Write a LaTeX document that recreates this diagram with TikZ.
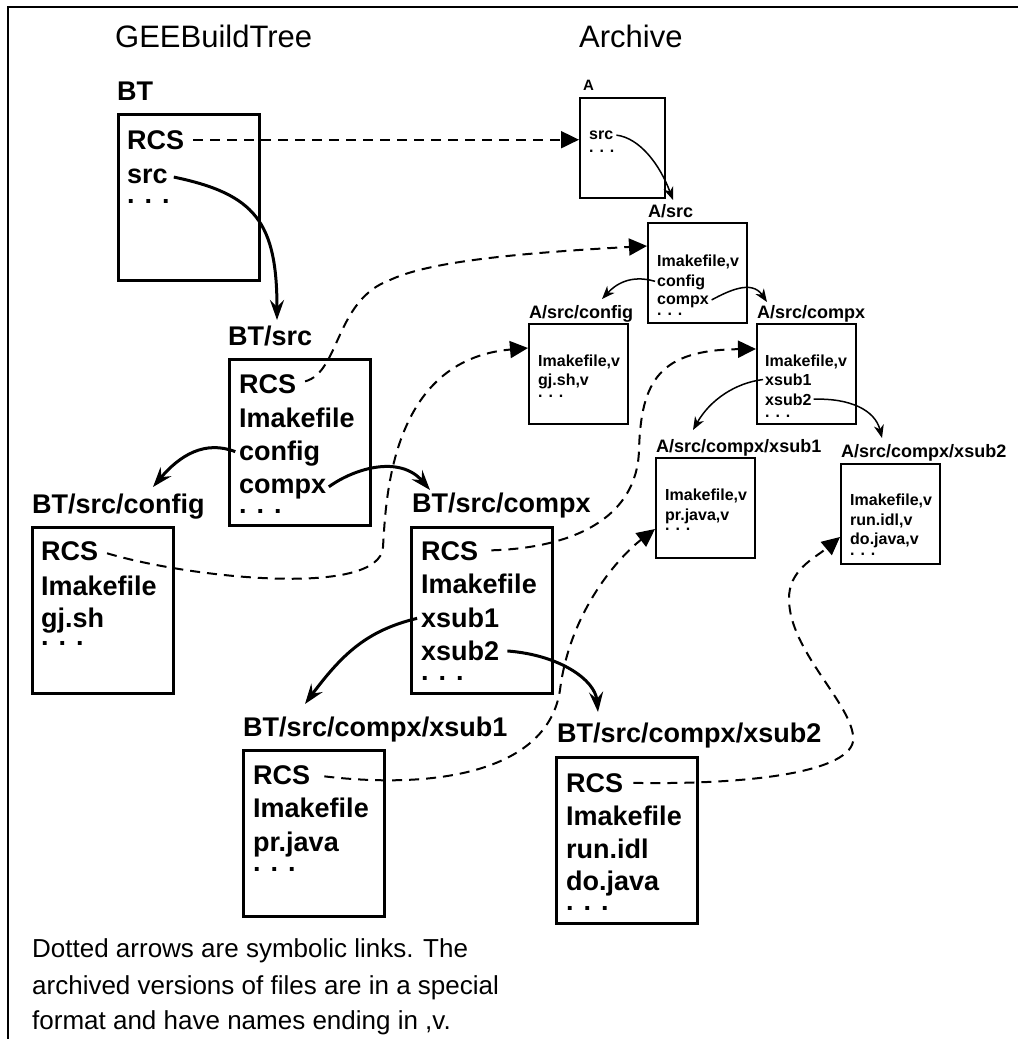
\documentclass[tikz,border=0pt]{standalone}
\usepackage{fontspec}
\setmainfont{Liberation Sans}
\usetikzlibrary{arrows.meta}

\newcommand\titlefont{\fontsize{31}{37}\selectfont}
\newcommand\btfont{\bfseries\fontsize{27}{32}\selectfont}
\newcommand\arlblfont{\bfseries\fontsize{18}{22}\selectfont}
\newcommand\aritemfont{\bfseries\fontsize{16}{19}\selectfont}
\newcommand\notefont{\fontsize{26}{36}\selectfont}

\tikzset{
  titletext/.style={anchor=base west, inner sep=0pt, font=\titlefont},
  notetext/.style={anchor=base west, inner sep=0pt, font=\notefont},
  btbox/.style={draw, line width=2.5pt, anchor=north west, inner sep=0pt,
    minimum width=141pt, minimum height=166pt},
  arbox/.style={draw, line width=1.5pt, anchor=north west, inner sep=0pt,
    minimum width=99pt, minimum height=100pt},
  btitem/.style={anchor=base west, inner sep=0pt, font=\btfont},
  btlbl/.style={btitem},
  aritem/.style={anchor=base west, inner sep=0pt, font=\aritemfont},
  arlbl/.style={anchor=base west, inner sep=0pt, font=\arlblfont},
  btlink/.style={line width=3pt, -{Stealth[length=20pt,width=14pt,inset=7pt]}},
  arlink/.style={line width=1.5pt, -{Stealth[length=13pt,width=10pt,inset=4pt]}},
  symlink/.style={line width=2pt, dash pattern=on 10pt off 7pt,
    -{Triangle[length=18pt,width=17pt]}}
}

\begin{document}
\begin{tikzpicture}[x=1pt,y=-1pt]
\useasboundingbox (0,0) rectangle (1018,1039);
\draw[line width=2pt] (8,1039) -- (8,7) -- (1018,7);

\node[titletext] (bttitle) at (115,47) {GEEBuildTree};
\node[titletext] (artitle) at (579,47) {Archive};

% build tree
\node[btlbl] (bt-lbl) at (117,100) {BT};
\node[btbox] (bt) at (117,113) {};
\node[btitem] (bt-rcs) at (127,149) {RCS};
\node[btitem] (bt-src) at (127,183) {src};
\node[btitem] (bt-dots) at (127,203) {. . .};

\node[btlbl] (btsrc-lbl) at (228,345) {BT/src};
\node[btbox] (btsrc) at (228,358) {};
\node[btitem] (btsrc-rcs) at (239,393) {RCS};
\node[btitem] (btsrc-imk) at (239,427) {Imakefile};
\node[btitem] (btsrc-cfg) at (239,460) {config};
\node[btitem] (btsrc-cpx) at (239,493) {compx};
\node[btitem] (btsrc-dots) at (239,513) {. . .};

\node[btlbl] (btcfg-lbl) at (32,513) {BT/src/config};
\node[btbox] (btcfg) at (31,526) {};
\node[btitem] (btcfg-rcs) at (41,560) {RCS};
\node[btitem] (btcfg-imk) at (41,595) {Imakefile};
\node[btitem] (btcfg-gj) at (41,627) {gj.sh};
\node[btitem] (btcfg-dots) at (41,645) {. . .};

\node[btlbl] (btcpx-lbl) at (412,512) {BT/src/compx};
\node[btbox] (btcpx) at (410,526) {};
\node[btitem] (btcpx-rcs) at (421,560) {RCS};
\node[btitem] (btcpx-imk) at (421,593) {Imakefile};
\node[btitem] (btcpx-xa) at (421,627) {xsub1};
\node[btitem] (btcpx-xb) at (421,660) {xsub2};
\node[btitem] (btcpx-dots) at (421,680) {. . .};

\node[btlbl] (btxa-lbl) at (243,736) {BT/src/compx/xsub1};
\node[btbox] (btxa) at (242,749) {};
\node[btitem] (btxa-rcs) at (253,784) {RCS};
\node[btitem] (btxa-imk) at (253,817) {Imakefile};
\node[btitem] (btxa-pr) at (253,851) {pr.java};
\node[btitem] (btxa-dots) at (253,871) {. . .};

\node[btlbl] (btxb-lbl) at (557,742) {BT/src/compx/xsub2};
\node[btbox] (btxb) at (555,756) {};
\node[btitem] (btxb-rcs) at (566,792) {RCS};
\node[btitem] (btxb-imk) at (566,825) {Imakefile};
\node[btitem] (btxb-run) at (566,858) {run.idl};
\node[btitem] (btxb-do) at (566,890) {do.java};
\node[btitem] (btxb-dots) at (566,910) {. . .};

% archive
\node[arlbl, font=\bfseries\fontsize{15}{18}\selectfont] (ar-lbl) at (583,90) {A};
\node[arbox, minimum width=85pt] (ar) at (579,97) {};
\node[aritem] (ar-src) at (589,139) {src};
\node[aritem] (ar-dots) at (589,152) {. . .};

\node[arlbl] (arsrc-lbl) at (648,217) {A/src};
\node[arbox] (arsrc) at (647,222) {};
\node[aritem] (arsrc-imk) at (657,266) {Imakefile,v};
\node[aritem] (arsrc-cfg) at (657,286) {config};
\node[aritem] (arsrc-cpx) at (657,304) {compx};
\node[aritem] (arsrc-dots) at (657,315) {. . .};

\node[arlbl] (arcfg-lbl) at (529,318) {A/src/config};
\node[arbox] (arcfg) at (528,323) {};
\node[aritem] (arcfg-imk) at (538,366) {Imakefile,v};
\node[aritem] (arcfg-gj) at (538,385) {gj.sh,v};
\node[aritem] (arcfg-dots) at (538,397) {. . .};

\node[arlbl] (arcpx-lbl) at (757,318) {A/src/compx};
\node[arbox] (arcpx) at (756,323) {};
\node[aritem] (arcpx-imk) at (765,366) {Imakefile,v};
\node[aritem] (arcpx-xa) at (765,385) {xsub1};
\node[aritem] (arcpx-xb) at (765,405) {xsub2};
\node[aritem] (arcpx-dots) at (765,417) {. . .};

\node[arlbl] (arxa-lbl) at (656,452) {A/src/compx/xsub1};
\node[arbox] (arxa) at (655,457) {};
\node[aritem] (arxa-imk) at (665,500) {Imakefile,v};
\node[aritem] (arxa-pr) at (665,520) {pr.java,v};
\node[aritem] (arxa-dots) at (665,530) {. . .};

\node[arlbl] (arxb-lbl) at (841,457) {A/src/compx/xsub2};
\node[arbox] (arxb) at (840,463) {};
\node[aritem] (arxb-imk) at (850,505) {Imakefile,v};
\node[aritem] (arxb-run) at (850,525) {run.idl,v};
\node[aritem] (arxb-do) at (850,544) {do.java,v};
\node[aritem] (arxb-dots) at (850,555) {. . .};

% links
\draw[symlink, shorten <=9pt] (bt-rcs.east) -- (bt-rcs.east -| ar.west);
\draw[btlink, shorten <=6pt] (bt-src.east) .. controls (255,194) and (277,222) .. ([shift={(49,-25)}]btsrc-lbl.base west);
\draw[symlink, shorten <=9pt] (btsrc-rcs.east) .. controls (340,372) and (335,300) .. (390,280) .. controls (420,266) and (480,255) .. ([shift={(0,24)}]arsrc.north west);
\draw[btlink, shorten <=4pt] (btsrc-cfg.west) .. controls (205,440) and (180,455) .. ([shift={(121,-26)}]btcfg-lbl.base west);
\draw[btlink, shorten <=3pt] (btsrc-cpx.east) .. controls (355,468) and (400,455) .. ([shift={(18,-22)}]btcpx-lbl.base west);
\draw[symlink, shorten <=9pt] (btcfg-rcs.east) .. controls (190,578) and (380,598) .. (383,547) .. controls (386,500) and (390,360) .. ([shift={(0,25)}]arcfg.north west);
\draw[symlink, shorten <=13pt] (btcpx-rcs.east) .. controls (570,548) and (637,520) .. (639,450) .. controls (641,380) and (660,350) .. ([shift={(0,26)}]arcpx.north west);
\draw[btlink, shorten <=4pt] (btcpx-xa.west) .. controls (370,630) and (345,650) .. ([shift={(62,-32)}]btxa-lbl.base west);
\draw[btlink, shorten <=8pt] (btcpx-xb.east) .. controls (560,655) and (595,680) .. ([shift={(41,-30)}]btxb-lbl.base west);
\draw[symlink, shorten <=14pt] (btxa-rcs.east) .. controls (440,790) and (548,770) .. (560,690) .. controls (570,610) and (620,556) .. ([shift={(0,72)}]arxa.north west);
\draw[symlink, shorten <=10pt] (btxb-rcs.east) .. controls (760,785) and (860,770) .. (853,735) .. controls (848,700) and (790,650) .. (789,600) .. controls (788,570) and (815,558) .. ([shift={(0,74)}]arxb.north west);

\draw[arlink, shorten <=3pt] (ar-src.east) .. controls (640,138) and (660,165) .. ([shift={(25,-17)}]arsrc-lbl.base west);
\draw[arlink, shorten <=2pt] (arsrc-cfg.west) .. controls (630,274) and (615,285) .. ([shift={(73,-19)}]arcfg-lbl.base west);
\draw[arlink, shorten <=3pt] (arsrc-cpx.east) .. controls (730,290) and (752,280) .. ([shift={(10,-16)}]arcpx-lbl.base west);
\draw[arlink, shorten <=2pt] (arcpx-xa.west) .. controls (735,383) and (710,400) .. ([shift={(37,-22)}]arxa-lbl.base west);
\draw[arlink, shorten <=2pt] (arcpx-xb.east) .. controls (850,398) and (875,410) .. ([shift={(41,-19)}]arxb-lbl.base west);

\node[notetext] (note1) at (32,957) {Dotted arrows are symbolic links. The};
\node[notetext] (note2) at (32,994) {archived versions of files are in a special};
\node[notetext] (note3) at (32,1029) {format and have names ending in ,v.};
\end{tikzpicture}
\end{document}
